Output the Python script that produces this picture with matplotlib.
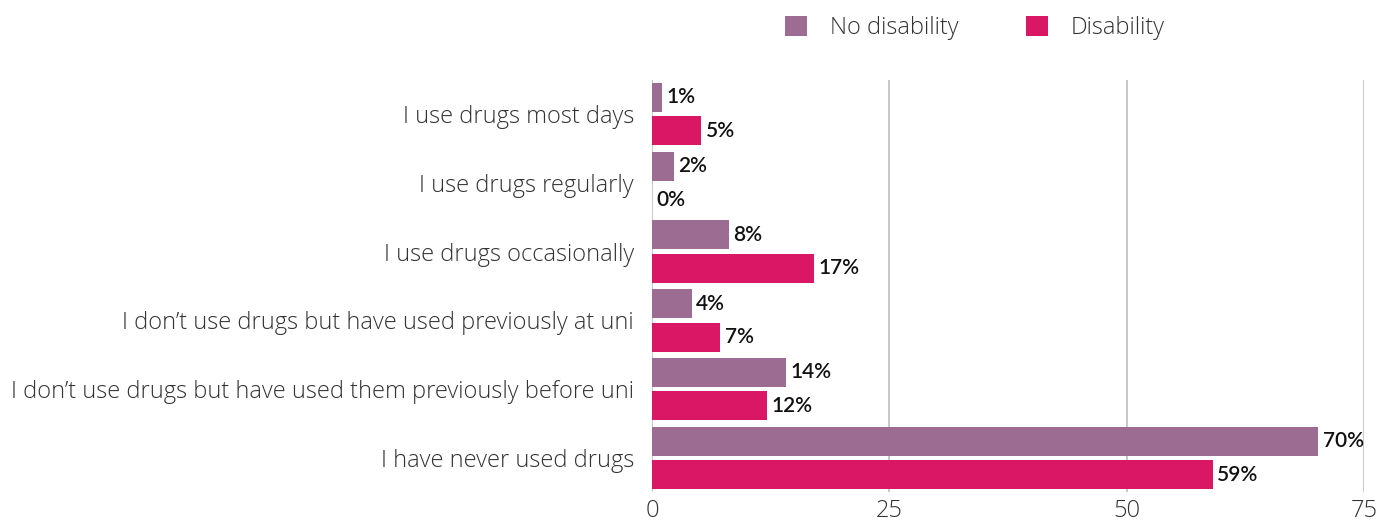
import matplotlib
matplotlib.use("Agg")
import matplotlib.pyplot as plt
import numpy as np
from matplotlib.patches import Patch

categories = [
    "I use drugs most days",
    "I use drugs regularly",
    "I use drugs occasionally",
    "I don\u2019t use drugs but have used previously at uni",
    "I don\u2019t use drugs but have used them previously before uni",
    "I have never used drugs",
]
no_disability = [1.1, 2.3, 8.1, 4.2, 14.1, 70.2]
disability = [5.2, 0.0, 17.1, 7.2, 12.1, 59.1]
series_names = ["No disability", "Disability"]
colors = ["#9D6C93", "#DA1764"]
xticks = [0, 25, 50, 75]

fig = plt.figure(figsize=(13.94, 5.24), dpi=100)
ax = fig.add_axes([0.4677, 0.0603, 0.5108, 0.7878])

y = np.arange(len(categories))
h = 0.42
off = 0.243
ax.barh(y - off, no_disability, height=h, color=colors[0], zorder=3)
ax.barh(y + off, disability, height=h, color=colors[1], zorder=3)

lab_font = dict(fontsize=15, family="Lato", weight="semibold", color="#111111")
for yi, v in zip(y - off, no_disability):
    ax.text(v + 0.45, yi, f"{round(v)}%", va="center", ha="left", **lab_font)
for yi, v in zip(y + off, disability):
    ax.text(v + 0.45, yi, f"{round(v)}%", va="center", ha="left", **lab_font)

ax.set_xlim(0, 75)
ax.set_ylim(5.5, -0.5)
ax.set_xticks(xticks)
ax.set_xticklabels([str(t) for t in xticks], fontsize=17, family="Open Sans",
                   weight="light", color="#333333")
ax.set_yticks(y)
ax.set_yticklabels(categories, fontsize=17, family="Open Sans", weight="light",
                   color="#333333")
ax.tick_params(axis="both", length=0)
ax.tick_params(axis="y", pad=13)
ax.tick_params(axis="x", pad=5)
for xv in xticks:
    ax.axvline(xv, color="#c8c8c8", lw=1.4, zorder=1)
for s in ax.spines.values():
    s.set_visible(False)

handles = [Patch(facecolor=c, edgecolor="none") for c in colors]
leg = fig.legend(handles, series_names, loc="center", bbox_to_anchor=(0.6994, 0.947),
                 ncol=2, frameon=False,
                 prop={"family": "Open Sans", "size": 17, "weight": "light"},
                 handlelength=0.93, handleheight=0.93, columnspacing=2.84,
                 handletextpad=0.97, borderpad=0, borderaxespad=0)
for t in leg.get_texts():
    t.set_color("#333333")

fig.savefig("out.png", dpi=100)
